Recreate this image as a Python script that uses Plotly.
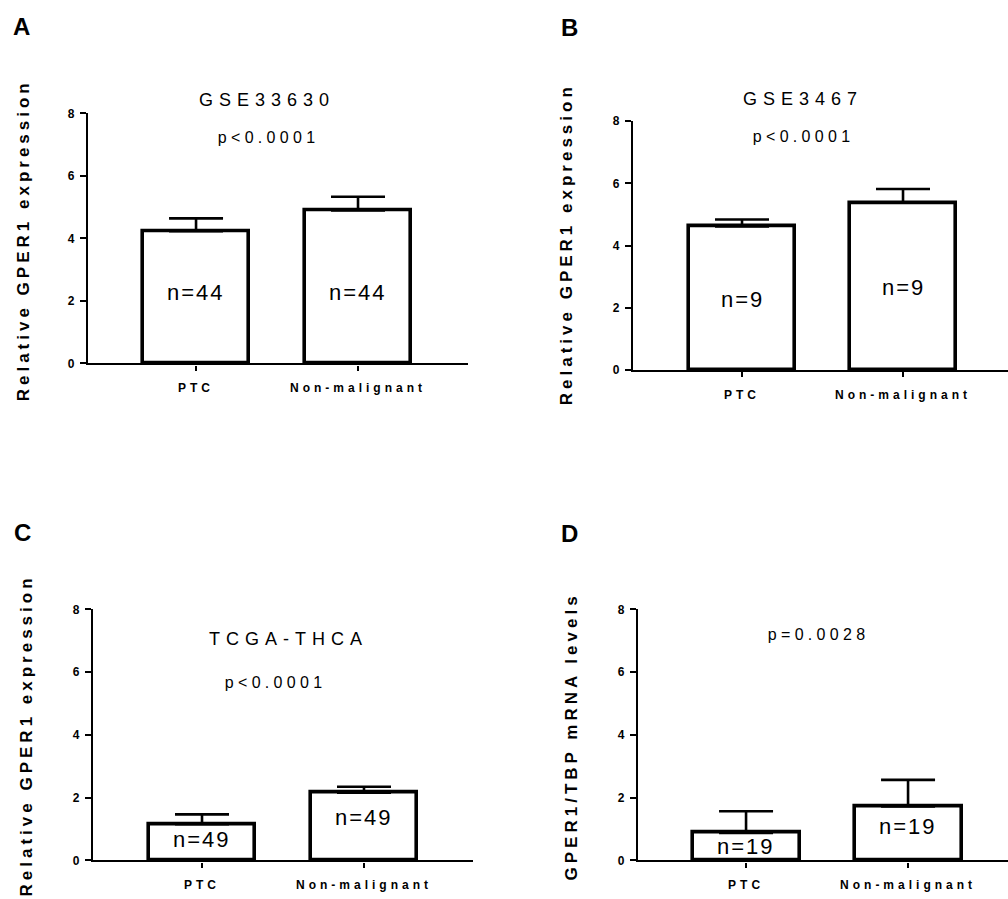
import json
import plotly.graph_objects as go

# ---------------- data ----------------
categories = ["PTC", "Non-malignant"]

mean_A = [4.23, 4.89]
sd_A = [0.41, 0.44]
n_A = [44, 44]

mean_B = [4.62, 5.38]
sd_B = [0.22, 0.44]
n_B = [9, 9]

mean_C = [1.16, 2.16]
sd_C = [0.31, 0.19]
n_C = [49, 49]

mean_D = [0.88, 1.72]
sd_D = [0.69, 0.85]
n_D = [19, 19]

panel_letters = ["A", "B", "C", "D"]
panel_titles = ["GSE33630", "GSE3467", "TCGA-THCA", ""]
p_values = ["p<0.0001", "p<0.0001", "p<0.0001", "p=0.0028"]
y_titles = ["Relative GPER1 expression", "Relative GPER1 expression",
            "Relative GPER1 expression", "GPER1/TBP mRNA levels"]
y_tick_vals = [0, 2, 4, 6, 8]

# ---------------- layout (pixel positions) ----------------
W, H = 1008, 899
FONT = "Liberation Sans, Arial, Helvetica, sans-serif"


def fx(x):
    return x / W


def fy(y):
    return 1 - y / H


panels = [
    dict(means=mean_A, sds=sd_A, ns=n_A, xdom=(88, 468), ydom=(362, 108),
         xr=(-0.667, 1.679), letter=(21, 20), title=(267, 94), p=(268, 133),
         ytitle=(23, 237), nlab=[2.27, 2.27]),
    dict(means=mean_B, sds=sd_B, ns=n_B, xdom=(633, 1008), ydom=(369, 116),
         xr=(-0.677, 1.652), letter=(569, 21), title=(803, 93), p=(803, 132),
         ytitle=(566, 241), nlab=[2.28, 2.66]),
    dict(means=mean_C, sds=sd_C, ns=n_C, xdom=(93, 473), ydom=(867, 612),
         xr=(-0.673, 1.673), letter=(22, 534), title=(288, 642), p=(275, 686),
         ytitle=(26, 740), nlab=[0.66, 1.38]),
    dict(means=mean_D, sds=sd_D, ns=n_D, xdom=(638, 1008), ydom=(867, 612),
         xr=(-0.667, 1.617), letter=(569, 535), title=(818, 600), p=(818, 637),
         ytitle=(571, 741), nlab=[0.44, 1.07]),
]

fig = go.Figure()
annotations = []
spacing = {"PTC": 4, "Non-malignant": 4}

for i, pn in enumerate(panels):
    k = "" if i == 0 else str(i + 1)
    xname, yname = "x" + k, "y" + k
    fig.add_trace(go.Bar(
        x=categories, y=pn["means"], width=0.66,
        marker=dict(color="white", line=dict(color="black", width=3.6)),
        error_y=dict(type="data", symmetric=False, array=pn["sds"],
                     arrayminus=[0, 0], color="black", thickness=2.6, width=27),
        xaxis=xname, yaxis=yname, showlegend=False, hoverinfo="skip",
    ))
    fig.layout["xaxis" + k] = dict(
        domain=[fx(pn["xdom"][0]), fx(pn["xdom"][1])], anchor=yname,
        type="category", range=list(pn["xr"]), showline=True, linecolor="black",
        linewidth=2.4, ticks="outside", ticklen=5, tickwidth=2.4, tickcolor="black",
        tickfont=dict(family=FONT, size=12, color="black", weight="bold"),
        ticklabelstandoff=7, showgrid=False, zeroline=False, fixedrange=True,
    )
    fig.layout["yaxis" + k] = dict(
        domain=[fy(pn["ydom"][0]), fy(pn["ydom"][1])], anchor=xname,
        range=[0, 8], tickvals=y_tick_vals, showline=True, linecolor="black",
        linewidth=2.4, ticks="outside", ticklen=6, tickwidth=2.4, tickcolor="black",
        tickfont=dict(family=FONT, size=12, color="black", weight="bold"),
        ticklabelstandoff=3, showgrid=False, zeroline=False, fixedrange=True,
    )
    # panel letter
    annotations.append(dict(
        text=panel_letters[i], x=fx(pn["letter"][0]), y=fy(pn["letter"][1]),
        xref="paper", yref="paper", xanchor="center", yanchor="middle",
        showarrow=False, font=dict(family=FONT, size=24, color="black", weight="bold")))
    # title
    if panel_titles[i]:
        annotations.append(dict(
            text=panel_titles[i], x=fx(pn["title"][0]), y=fy(pn["title"][1]),
            xref="paper", yref="paper", xanchor="center", yanchor="middle",
            showarrow=False, font=dict(family=FONT, size=18, color="black")))
        spacing[panel_titles[i]] = 6
    # p-value
    annotations.append(dict(
        text=p_values[i], x=fx(pn["p"][0]), y=fy(pn["p"][1]),
        xref="paper", yref="paper", xanchor="center", yanchor="middle",
        showarrow=False, font=dict(family=FONT, size=16, color="black")))
    spacing[p_values[i]] = 4.3
    # y title
    annotations.append(dict(
        text=y_titles[i], x=fx(pn["ytitle"][0]), y=fy(pn["ytitle"][1]),
        xref="paper", yref="paper", xanchor="center", yanchor="middle",
        textangle=-90, showarrow=False,
        font=dict(family=FONT, size=17, color="black", weight="bold")))
    spacing[y_titles[i]] = 4
    # n labels
    for c, nv, ny in zip(categories, pn["ns"], pn["nlab"]):
        t = "n=%d" % nv
        annotations.append(dict(
            text=t, x=c, y=ny, xref=xname, yref=yname,
            xanchor="center", yanchor="middle", showarrow=False,
            font=dict(family=FONT, size=22, color="black")))
        spacing[t] = 2

fig.update_layout(
    width=W, height=H, autosize=False,
    margin=dict(l=0, r=0, t=0, b=0),
    paper_bgcolor="white", plot_bgcolor="white",
    annotations=annotations, bargap=0,
)

js = """
document.documentElement.style.margin = '0';
document.body.style.margin = '0';
document.body.style.padding = '0';
var gd = document.getElementById('{plot_id}');
var sp = %s;
gd.querySelectorAll('text').forEach(function(t){
  var k = t.textContent;
  if (Object.prototype.hasOwnProperty.call(sp, k)) { t.style.letterSpacing = sp[k] + 'px'; }
});
""" % json.dumps(spacing)

fig.write_html("out.html", post_script=js, config={"displayModeBar": False})
